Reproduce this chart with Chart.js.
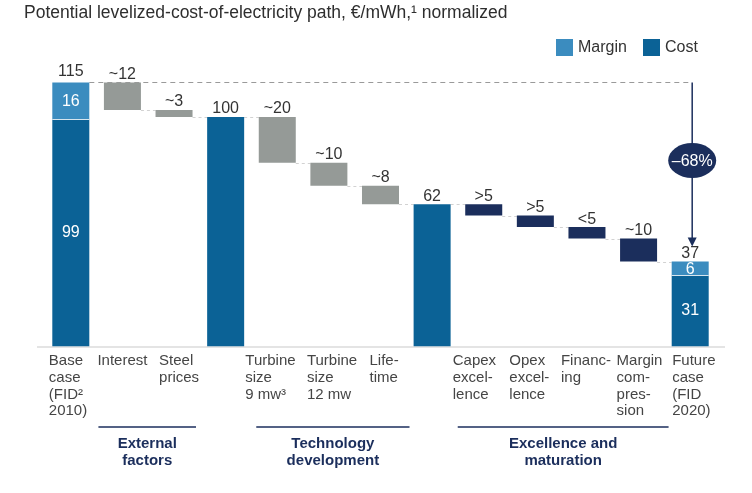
<!DOCTYPE html>
<html><head><meta charset="utf-8">
<script src="https://cdn.jsdelivr.net/npm/chart.js@4.4.1/dist/chart.umd.min.js"></script>
<style>html,body{margin:0;padding:0;background:#fff}#wrap{width:752px;height:493px;position:relative}</style>
</head><body><div id="wrap"><canvas id="c"></canvas></div>
<script>
const titleText = 'Potential levelized-cost-of-electricity path, €/mWh,¹ normalized';
const categories = [
  ['Base','case','(FID²','2010)'], ['Interest'], ['Steel','prices'], [''],
  ['Turbine','size','9 mw³'], ['Turbine','size','12 mw'], ['Life-','time'], [''],
  ['Capex','excel-','lence'], ['Opex','excel-','lence'], ['Financ-','ing'],
  ['Margin','com-','pres-','sion'], ['Future','case','(FID','2020)']
];
const costValues   = [99, null, null, 100, null, null, null, 62, null, null, null, null, 31];
const marginValues = [16, null, null, null, null, null, null, null, null, null, null, null, 6];
const stepValues   = [null, -12, -3, null, -20, -10, -8, null, -5, -5, -5, -10, null];
const stepGroup    = ['', 'ext', 'ext', '', 'tech', 'tech', 'tech', '', 'exc', 'exc', 'exc', 'exc', ''];
const valueLabels  = ['115', '~12', '~3', '100', '~20', '~10', '~8', '62', '>5', '>5', '<5', '~10', '37'];
const groupLabels  = [['External','factors'], ['Technology','development'], ['Excellence and','maturation']];
const groupKeys    = ['ext', 'tech', 'exc'];
const changeLabel  = '–68%';
const legendLabels = ['Margin', 'Cost'];

// layout constants (pixels): left edge of each category label relative to its bar centre,
// and group underline extents relative to the first / last bar centre of the group
const LABEL_SHIFT = [-22, -25, -15, 0, -32, -22, -11, 0, -31, -26, -26, -22, -18];
const GROUP_EXT = [[-24, 22], [-21, 29], [-26, 30]];

const FONT = '"Liberation Sans", Arial, Helvetica, sans-serif';
const C_COST = '#0b6296', C_MARGIN = '#3b8cbf', C_GRAY = '#959a97', C_NAVY = '#1b2e5c';

// build floating ranges from the values above
const costData = [], marginData = [], grayData = [], navyData = [], topVals = [], endVals = [];
let level = 0;
for (let i = 0; i < categories.length; i++) {
  if (costValues[i] != null) {
    const m = marginValues[i] || 0;
    costData.push([0, costValues[i]]);
    marginData.push(m ? [costValues[i], costValues[i] + m] : null);
    grayData.push(null); navyData.push(null);
    level = costValues[i] + m;
    topVals.push(level); endVals.push(level);
  } else {
    const from = level, to = level + stepValues[i];
    costData.push(null); marginData.push(null);
    grayData.push(stepGroup[i] === 'exc' ? null : [to, from]);
    navyData.push(stepGroup[i] === 'exc' ? [to, from] : null);
    topVals.push(from); endVals.push(to);
    level = to;
  }
}

function barEl(chart, i) {
  for (let d = 0; d < chart.data.datasets.length; d++) {
    const el = chart.getDatasetMeta(d).data[i];
    if (chart.data.datasets[d].data[i] != null && el) return el;
  }
  return null;
}

const overlay = {
  id: 'overlay',
  beforeDatasetsDraw(chart) {
    const ctx = chart.ctx, y = chart.scales.y, ca = chart.chartArea;
    ctx.save();
    // axis line
    ctx.strokeStyle = '#c9c9c9'; ctx.lineWidth = 1.2;
    ctx.beginPath(); ctx.moveTo(37, ca.bottom + 0.5); ctx.lineTo(725, ca.bottom + 0.5); ctx.stroke();
    // connectors
    ctx.strokeStyle = '#d2d2d2'; ctx.lineWidth = 1; ctx.setLineDash([3, 3]);
    for (let i = 1; i < categories.length - 1; i++) {
      const a = barEl(chart, i), b = barEl(chart, i + 1);
      const py = Math.round(y.getPixelForValue(endVals[i])) + 0.5;
      ctx.beginPath(); ctx.moveTo(a.x + a.width / 2, py); ctx.lineTo(b.x - b.width / 2, py); ctx.stroke();
    }
    // long dashed line from base top to arrow
    const first = barEl(chart, 0), last = barEl(chart, categories.length - 1);
    const ax = last.x + 2;
    const ty = Math.round(y.getPixelForValue(topVals[0])) + 0.5;
    ctx.strokeStyle = '#9a9a9a'; ctx.setLineDash([5, 4]);
    ctx.beginPath(); ctx.moveTo(first.x + first.width / 2, ty); ctx.lineTo(ax, ty); ctx.stroke();
    ctx.setLineDash([]);
    ctx.restore();
  },
  afterDatasetsDraw(chart) {
    const ctx = chart.ctx, y = chart.scales.y, xs = chart.scales.x;
    ctx.save();
    // title
    ctx.fillStyle = '#2e2e2e'; ctx.font = '17.5px ' + FONT; ctx.textBaseline = 'middle'; ctx.textAlign = 'left';
    ctx.fillText(titleText, 24, 13);
    // legend
    const legendColors = [C_MARGIN, C_COST], legendX = [556, 643];
    legendLabels.forEach((t, k) => {
      ctx.fillStyle = legendColors[k]; ctx.fillRect(legendX[k], 39, 17, 17);
      ctx.fillStyle = '#333'; ctx.font = '16px ' + FONT; ctx.textAlign = 'left'; ctx.textBaseline = 'middle';
      ctx.fillText(t, legendX[k] + 22, 48);
    });
    // category labels
    ctx.fillStyle = '#454545'; ctx.font = '15px ' + FONT; ctx.textAlign = 'left'; ctx.textBaseline = 'middle';
    categories.forEach((lines, i) => {
      const cx = xs.getPixelForValue(i);
      lines.forEach((t, j) => ctx.fillText(t, cx + LABEL_SHIFT[i], 361 + j * 16.7));
    });
    // value labels above bars
    ctx.font = '16px ' + FONT; ctx.textAlign = 'center'; ctx.textBaseline = 'alphabetic'; ctx.fillStyle = '#333';
    for (let i = 0; i < categories.length; i++) {
      const el = barEl(chart, i);
      const top = y.getPixelForValue(topVals[i]);
      ctx.fillText(valueLabels[i], el.x, top - (i === 0 ? 6 : 3.5));
    }
    // inner labels
    ctx.textBaseline = 'middle';
    for (let i = 0; i < categories.length; i++) {
      if (costValues[i] == null || !marginValues[i]) continue;
      const el = barEl(chart, i);
      const c0 = y.getPixelForValue(0), c1 = y.getPixelForValue(costValues[i]), m1 = y.getPixelForValue(costValues[i] + marginValues[i]);
      ctx.fillStyle = '#fff';
      ctx.fillText(String(costValues[i]), el.x, (c0 + c1) / 2);
      ctx.fillText(String(marginValues[i]), el.x, (c1 + m1) / 2 + 1);
      ctx.strokeStyle = 'rgba(255,255,255,0.8)'; ctx.lineWidth = 1;
      ctx.beginPath(); ctx.moveTo(el.x - el.width / 2, Math.round(c1) + 0.5); ctx.lineTo(el.x + el.width / 2, Math.round(c1) + 0.5); ctx.stroke();
    }
    // arrow & -68% bubble
    const last = barEl(chart, categories.length - 1);
    const ax = last.x + 2;
    const ty = y.getPixelForValue(topVals[0]);
    const tipY = y.getPixelForValue(topVals[categories.length - 1]) - 15;
    const ey = 160.5;
    ctx.strokeStyle = C_NAVY; ctx.lineWidth = 1.5;
    ctx.beginPath(); ctx.moveTo(ax, ty); ctx.lineTo(ax, tipY - 6); ctx.stroke();
    ctx.fillStyle = C_NAVY;
    ctx.beginPath(); ctx.moveTo(ax - 4.5, tipY - 9); ctx.lineTo(ax + 4.5, tipY - 9); ctx.lineTo(ax, tipY); ctx.closePath(); ctx.fill();
    ctx.beginPath(); ctx.ellipse(ax, ey, 24, 17.5, 0, 0, Math.PI * 2); ctx.fill();
    ctx.fillStyle = '#fff'; ctx.font = '16px ' + FONT; ctx.textAlign = 'center'; ctx.textBaseline = 'middle';
    ctx.fillText(changeLabel, ax, ey + 1);
    // group lines & labels
    groupKeys.forEach((g, k) => {
      const idx = stepGroup.map((s, i) => s === g ? i : -1).filter(i => i >= 0);
      const x0 = xs.getPixelForValue(idx[0]) + GROUP_EXT[k][0], x1 = xs.getPixelForValue(idx[idx.length - 1]) + GROUP_EXT[k][1];
      ctx.strokeStyle = C_NAVY; ctx.lineWidth = 1.5;
      ctx.beginPath(); ctx.moveTo(x0, 427); ctx.lineTo(x1, 427); ctx.stroke();
      ctx.fillStyle = C_NAVY; ctx.font = 'bold 15px ' + FONT; ctx.textAlign = 'center'; ctx.textBaseline = 'middle';
      groupLabels[k].forEach((t, j) => ctx.fillText(t, (x0 + x1) / 2, 444 + j * 16.7));
    });
    ctx.restore();
  }
};

new Chart(document.getElementById('c'), {
  type: 'bar',
  data: {
    labels: categories,
    datasets: [
      { label: 'Cost', data: costData, backgroundColor: C_COST, grouped: false },
      { label: 'Margin', data: marginData, backgroundColor: C_MARGIN, grouped: false },
      { label: 'External factors / Technology development', data: grayData, backgroundColor: C_GRAY, grouped: false },
      { label: 'Excellence and maturation', data: navyData, backgroundColor: C_NAVY, grouped: false }
    ]
  },
  options: {
    responsive: true, maintainAspectRatio: false, animation: false,
    layout: { padding: { left: 45, right: 36, top: 48, bottom: 0 } },
    datasets: { bar: { barPercentage: 0.717, categoryPercentage: 1, borderWidth: 0, borderSkipped: false } },
    plugins: { legend: { display: false }, tooltip: { enabled: false }, title: { display: false } },
    scales: {
      x: {
        grid: { display: false, drawTicks: false }, border: { display: false },
        ticks: { display: false },
        afterFit(scale) { scale.height = 146.5; }
      },
      y: { display: false, min: 0, max: 130 }
    }
  },
  plugins: [overlay]
});
</script>
</body></html>
